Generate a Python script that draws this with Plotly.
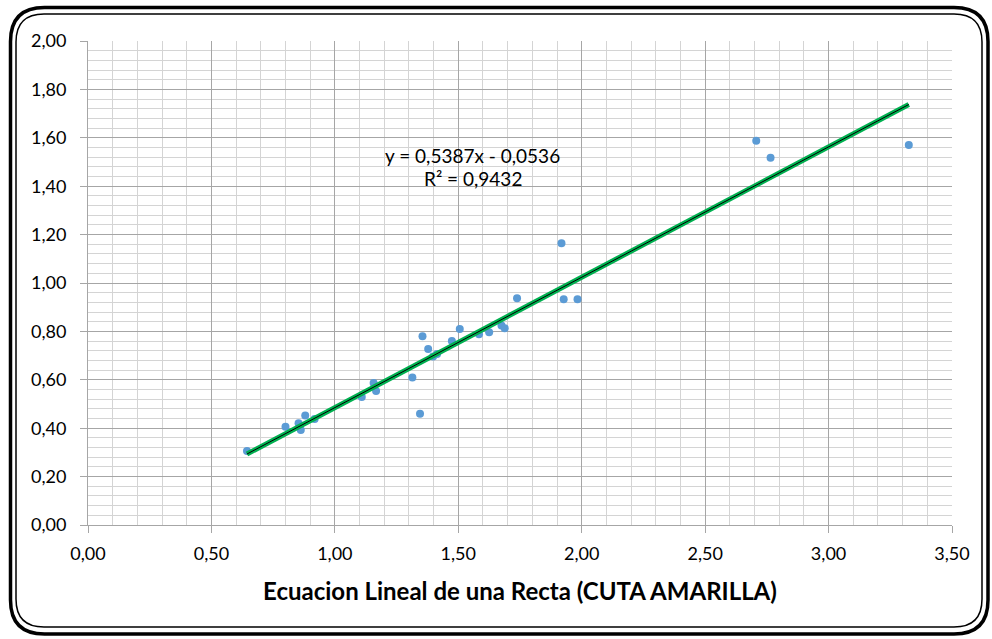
import plotly.graph_objects as go

# Data
x_vals = [0.644, 0.800, 0.853, 0.862, 0.880, 0.918, 1.109, 1.157, 1.167, 1.314,
          1.345, 1.355, 1.378, 1.398, 1.414, 1.474, 1.506, 1.584, 1.625, 1.675,
          1.688, 1.738, 1.918, 1.927, 1.983, 2.707, 2.765, 3.325]
y_vals = [0.306, 0.406, 0.420, 0.393, 0.452, 0.438, 0.529, 0.587, 0.554, 0.609,
          0.460, 0.780, 0.727, 0.696, 0.707, 0.760, 0.810, 0.788, 0.796, 0.824,
          0.813, 0.937, 1.164, 0.933, 0.933, 1.588, 1.518, 1.570]
slope = 0.5387
intercept = -0.0536
r2 = 0.9432

x_ticks = [0.0, 0.5, 1.0, 1.5, 2.0, 2.5, 3.0, 3.5]
x_ticklabels = ["0,00", "0,50", "1,00", "1,50", "2,00", "2,50", "3,00", "3,50"]
y_ticks = [0.0, 0.2, 0.4, 0.6, 0.8, 1.0, 1.2, 1.4, 1.6, 1.8, 2.0]
y_ticklabels = ["0,00", "0,20", "0,40", "0,60", "0,80", "1,00", "1,20", "1,40", "1,60", "1,80", "2,00"]

x_title = "Ecuacion Lineal de una Recta (CUTA AMARILLA)"
eq_text = "y = 0,5387x - 0,0536"
r2_text = "R² = 0,9432"

FONT = "Lato"

trend_x = [min(x_vals), max(x_vals)]
trend_y = [slope * v + intercept for v in trend_x]

fig = go.Figure()
fig.add_trace(go.Scatter(x=x_vals, y=y_vals, mode="markers",
                         marker=dict(color="#5b9bd5", size=8), showlegend=False,
                         cliponaxis=False))
fig.add_trace(go.Scatter(x=trend_x, y=trend_y, mode="lines",
                         line=dict(color="#00b050", width=5), showlegend=False))
fig.add_trace(go.Scatter(x=trend_x, y=trend_y, mode="lines",
                         line=dict(color="#000000", width=1), showlegend=False))

W, H = 992, 639
L, R, T, B = 88, 40, 41, 114
pw, ph = W - L - R, H - T - B

def px(x):
    return (x - L) / pw

def py(y):
    return (H - B - y) / ph

def rounded_rect(x0, y0, x1, y1, r):
    rx, ry = r / pw, r / ph
    X0, X1 = px(x0), px(x1)
    Y0, Y1 = py(y0), py(y1)  # Y0 top (larger), Y1 bottom
    return (f"M {X0+rx},{Y0} L {X1-rx},{Y0} Q {X1},{Y0} {X1},{Y0-ry} "
            f"L {X1},{Y1+ry} Q {X1},{Y1} {X1-rx},{Y1} "
            f"L {X0+rx},{Y1} Q {X0},{Y1} {X0},{Y1+ry} "
            f"L {X0},{Y0-ry} Q {X0},{Y0} {X0+rx},{Y0} Z")

shapes = [
    dict(type="path", xref="paper", yref="paper", path=rounded_rect(10.5, 7.5, 988, 634, 34),
         line=dict(color="black", width=3.5), layer="above"),
    dict(type="path", xref="paper", yref="paper", path=rounded_rect(16, 14, 982, 627, 28),
         line=dict(color="black", width=1.5), layer="above"),
]

fig.update_layout(
    width=W, height=H,
    margin=dict(l=L, r=R, t=T, b=B),
    paper_bgcolor="white", plot_bgcolor="white",
    font=dict(family=FONT, color="#000000", size=18),
    shapes=shapes,
    xaxis=dict(range=[0, 3.5], tickvals=x_ticks, ticktext=x_ticklabels,
               showgrid=True, gridcolor="#a6a6a6", gridwidth=1,
               minor=dict(dtick=0.1, showgrid=True, gridcolor="#d4d4d4", gridwidth=1),
               ticks="outside", ticklen=7, tickcolor="#a6a6a6",
               showline=True, linecolor="#a6a6a6", linewidth=1, zeroline=False,
               tickfont=dict(size=18, family=FONT), ticklabelstandoff=5,
               title=dict(text="<b>" + x_title + "</b>", font=dict(size=24, family=FONT), standoff=20)),
    yaxis=dict(range=[0, 2.0], tickvals=y_ticks, ticktext=y_ticklabels,
               showgrid=True, gridcolor="#a6a6a6", gridwidth=1,
               minor=dict(dtick=0.04, showgrid=True, gridcolor="#d4d4d4", gridwidth=1),
               ticks="outside", ticklen=7, tickcolor="#a6a6a6",
               showline=True, linecolor="#a6a6a6", linewidth=1, zeroline=False,
               tickfont=dict(size=18, family=FONT), ticklabelstandoff=10),
    annotations=[
        dict(x=(473 - L) / 247.0, y=(H - B - 155) / 242.0, xref="x", yref="y", text=eq_text,
             showarrow=False, font=dict(size=19, family=FONT)),
        dict(x=(473 - L) / 247.0, y=(H - B - 178) / 242.0, xref="x", yref="y", text=r2_text,
             showarrow=False, font=dict(size=19, family=FONT)),
    ],
)

fig.write_html("out.html", config={"displayModeBar": False},
               post_script="document.body.style.margin='0px';document.body.style.padding='0px';")
